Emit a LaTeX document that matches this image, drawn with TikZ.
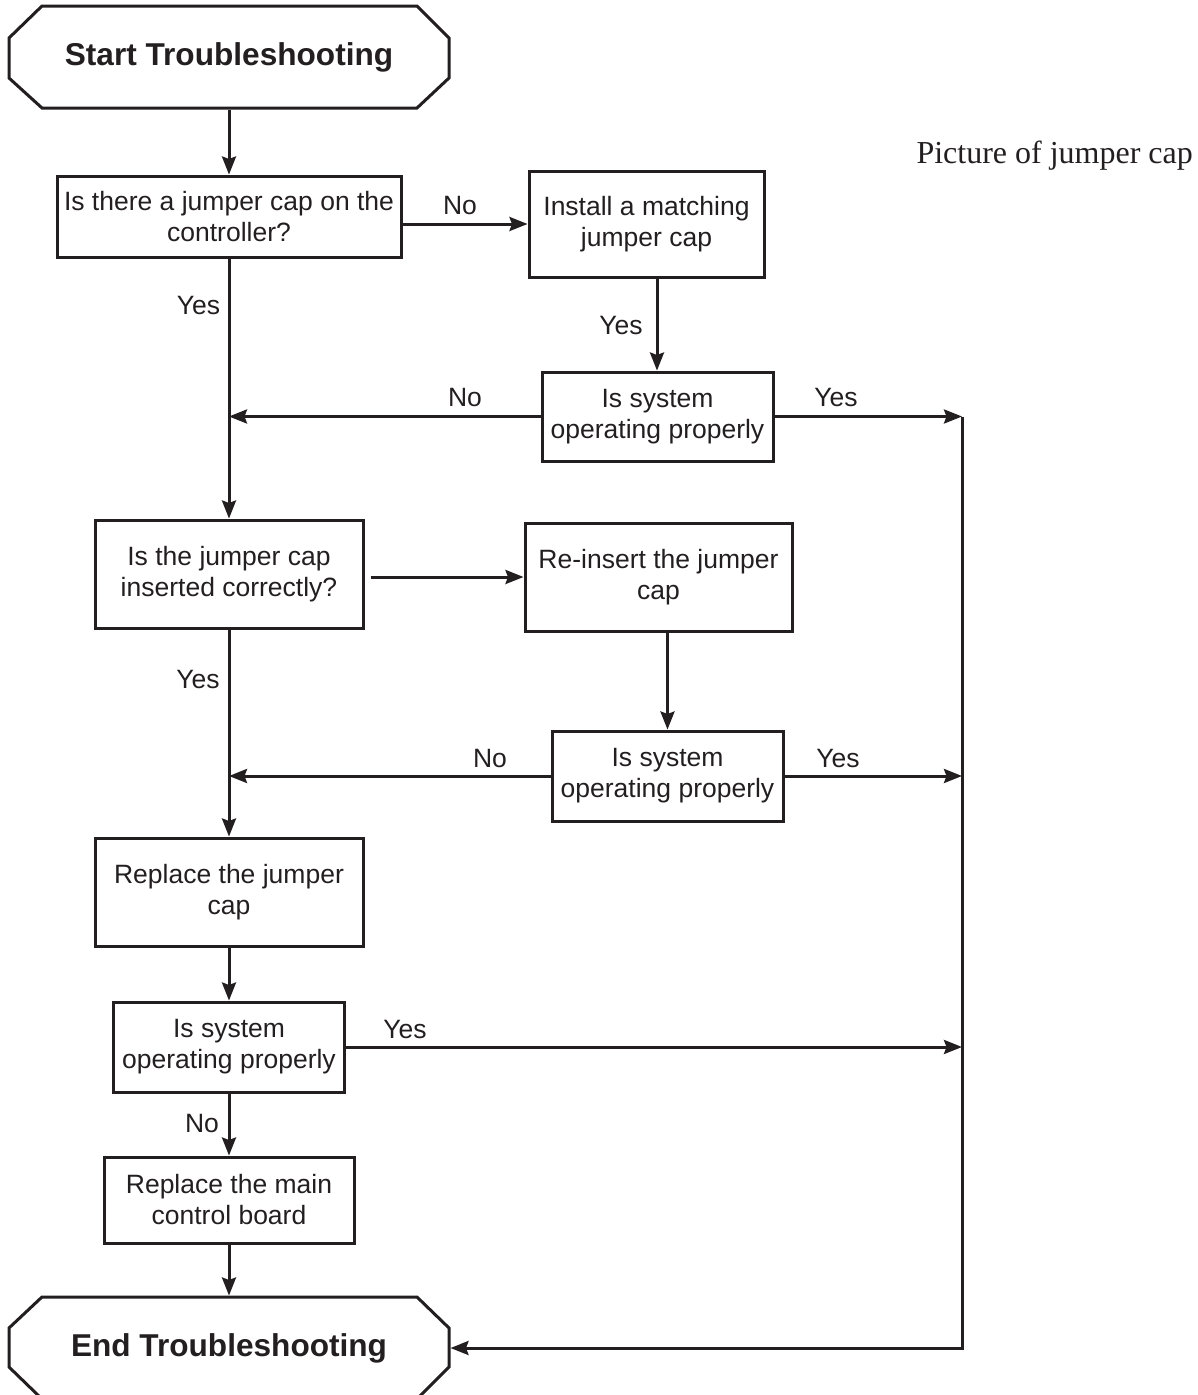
\documentclass[tikz,border=0pt]{standalone}
\usepackage{fontspec}
\setmainfont{Liberation Serif}
\setsansfont{Liberation Sans}
\usetikzlibrary{arrows.meta,calc}
\definecolor{ink}{HTML}{231F20}
\begin{document}
\begin{tikzpicture}[x=1pt,y=-1pt,
  line width=3pt, draw=ink, text=ink,
  box/.style={draw=ink, line width=3pt, rectangle, align=center, inner sep=0pt,
    font=\sffamily\fontsize{26.5}{31}\selectfont},
  term/.style={inner sep=0pt, font=\sffamily\bfseries\fontsize{31.6}{36}\selectfont,
    minimum width=440pt, minimum height=102pt},
  lbl/.style={font=\sffamily\fontsize{26.5}{31}\selectfont, inner sep=0pt},
  arr/.style={line width=3pt, -{Stealth[length=18pt,width=14pt,inset=2.5pt]}}
]
\useasboundingbox (0,0) rectangle (1197,1395);

% terminals
\draw[ink, line width=3pt] (42,6) -- (417,6) -- (449,38) -- (449,78) -- (417,108) -- (42,108) -- (9,78) -- (9,38) -- cycle;
\node[term] (start) at (229,57) {Start Troubleshooting};
\draw[ink, line width=3pt] (42,1297) -- (417,1297) -- (449,1328) -- (449,1367) -- (417,1399) -- (42,1399) -- (9,1367) -- (9,1328) -- cycle;
\node[term] (end) at (229,1348) {End Troubleshooting};

% boxes
\node[box, minimum width=344pt, minimum height=81pt] (b1) at (229,216.5) {Is there a jumper cap on the\\controller?};
\node[box, minimum width=235pt, minimum height=106pt] (b2) at (646.5,224) {Install a matching\\jumper cap};
\node[box, minimum width=231pt, minimum height=89pt] (b3) at (657.5,416.5) {Is system\\operating properly};
\node[box, minimum width=268pt, minimum height=108pt] (b4) at (229,574) {Is the jumper cap\\inserted correctly?};
\node[box, minimum width=267pt, minimum height=108pt] (b5) at (658.5,577) {Re-insert the jumper\\cap};
\node[box, minimum width=231pt, minimum height=90pt] (b6) at (667.5,776) {Is system\\operating properly};
\node[box, minimum width=268pt, minimum height=108pt] (b7) at (229,892) {Replace the jumper\\cap};
\node[box, minimum width=231pt, minimum height=90pt] (b8) at (229,1047) {Is system\\operating properly};
\node[box, minimum width=250pt, minimum height=86pt] (b9) at (229,1200) {Replace the main\\control board};

% side text
\node[anchor=base west, inner sep=0pt, font=\fontsize{32}{38}\selectfont] (pic) at (915,163) {Picture of jumper cap};

% helper coordinates
\coordinate (m1) at (229,416.5);
\coordinate (m2) at (229,776);
\coordinate (r1) at (962,416.5);
\coordinate (r2) at (962,776);
\coordinate (r3) at (962,1047);
\coordinate (r4) at (962,1348);

% connectors
\draw[arr] (start.south) -- (b1.north);
\draw[arr] (b1.east |- b2.west) -- (b2.west);
\draw[arr] (b2.south -| 657,0) -- (b3.north -| 657,0);
\draw[arr] (b1.south) -- (b4.north);
\draw[arr] (b3.west) -- (m1);
\draw[arr] (b3.east) -- (r1);
\draw[arr] ($(b4.east |- b5.west)+(6,0)$) -- (b5.west);
\draw[arr] (b5.south -| b6.north) -- (b6.north);
\draw[arr] (b6.west) -- (m2);
\draw[arr] (b6.east) -- (r2);
\draw[arr] (b4.south) -- (b7.north);
\draw[arr] (b7.south) -- (b8.north);
\draw[arr] (b8.east) -- (r3);
\draw[arr] (b8.south) -- (b9.north);
\draw[arr] (b9.south) -- (end.north);
\draw[arr] (r1) -- (r4) -- (end.east);

% labels
\node[lbl] at (460,206) {No};
\node[lbl] at (198.5,306) {Yes};
\node[lbl] at (621,326) {Yes};
\node[lbl] at (465,398) {No};
\node[lbl] at (836,398) {Yes};
\node[lbl] at (198,680) {Yes};
\node[lbl] at (490,759) {No};
\node[lbl] at (838,759) {Yes};
\node[lbl] at (405,1029) {Yes};
\node[lbl] at (202,1123) {No};
\end{tikzpicture}
\end{document}
